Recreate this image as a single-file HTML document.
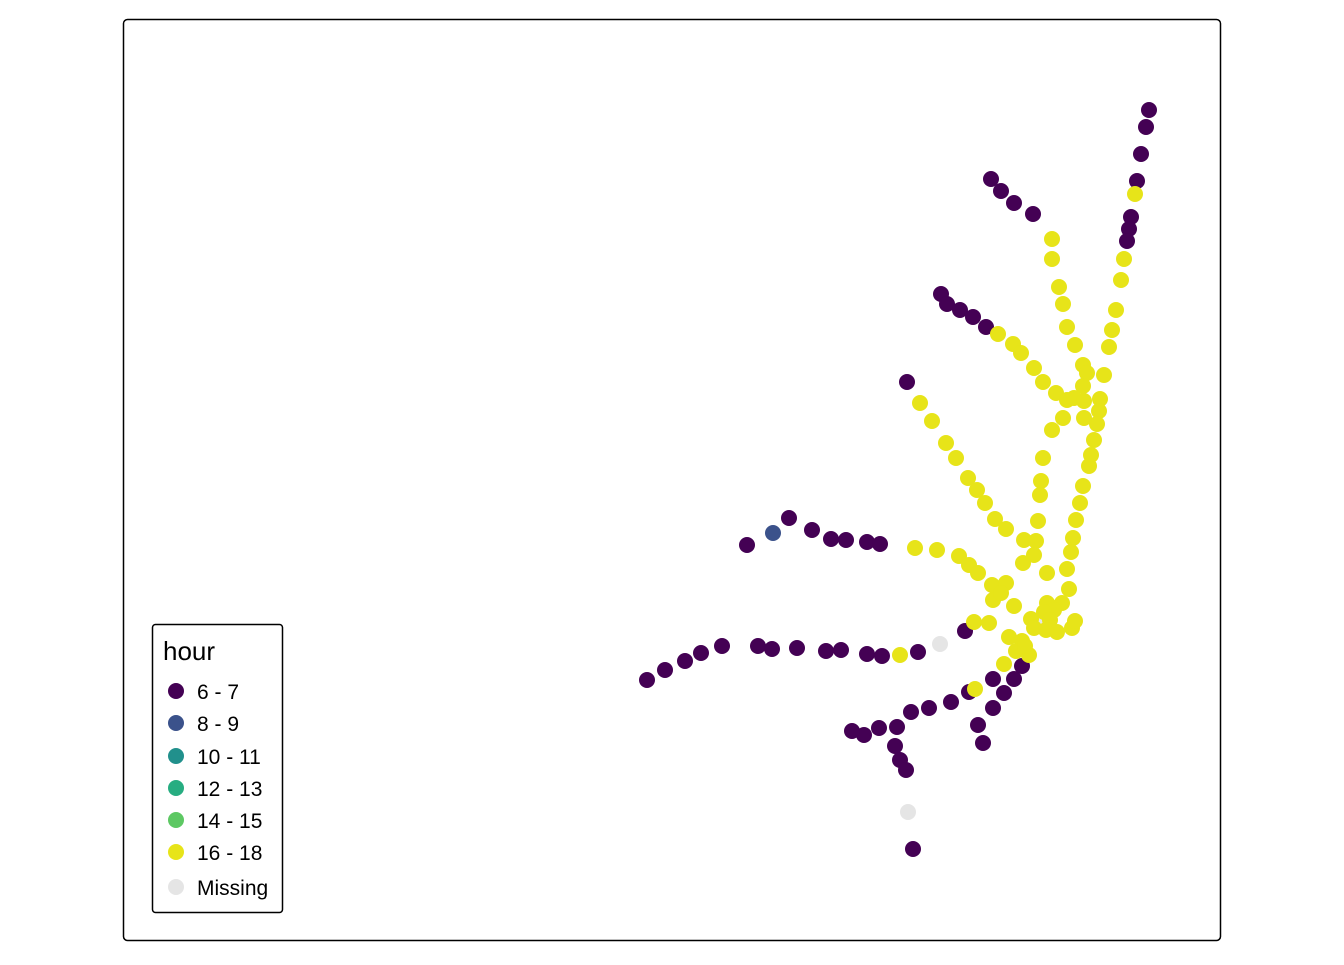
<!DOCTYPE html><html><head><meta charset="utf-8"><style>body{margin:0;background:#fff}</style></head><body>
<svg width="1344" height="960" xmlns="http://www.w3.org/2000/svg" font-family="Liberation Sans, sans-serif">
<rect x="123.5" y="19.5" width="1097" height="921" rx="4" fill="#fff" stroke="#000" stroke-width="1.5"/>
<g fill="#440154">
<circle cx="1149" cy="110" r="8"/><circle cx="1146" cy="127" r="8"/><circle cx="1141" cy="154" r="8"/><circle cx="1137" cy="181" r="8"/><circle cx="1131" cy="217" r="8"/><circle cx="1129" cy="229" r="8"/><circle cx="1127" cy="241" r="8"/>
<circle cx="991" cy="179" r="8"/><circle cx="1001" cy="191" r="8"/><circle cx="1014" cy="203" r="8"/><circle cx="1033" cy="214" r="8"/>
<circle cx="941" cy="294" r="8"/><circle cx="947" cy="304" r="8"/><circle cx="960" cy="310" r="8"/><circle cx="973" cy="317" r="8"/><circle cx="986" cy="327" r="8"/>
<circle cx="907" cy="382" r="8"/>
<circle cx="747" cy="545" r="8"/><circle cx="789" cy="518" r="8"/><circle cx="812" cy="530" r="8"/><circle cx="831" cy="539" r="8"/><circle cx="846" cy="540" r="8"/><circle cx="867" cy="542" r="8"/><circle cx="880" cy="544" r="8"/>
<circle cx="647" cy="680" r="8"/><circle cx="665" cy="670" r="8"/><circle cx="685" cy="661" r="8"/><circle cx="701" cy="653" r="8"/><circle cx="722" cy="646" r="8"/><circle cx="758" cy="646" r="8"/><circle cx="772" cy="649" r="8"/><circle cx="797" cy="648" r="8"/><circle cx="826" cy="651" r="8"/><circle cx="841" cy="650" r="8"/><circle cx="867" cy="654" r="8"/><circle cx="882" cy="656" r="8"/><circle cx="918" cy="652" r="8"/><circle cx="965" cy="631" r="8"/>
<circle cx="1022" cy="666" r="8"/><circle cx="1014" cy="679" r="8"/><circle cx="993" cy="679" r="8"/><circle cx="1004" cy="693" r="8"/><circle cx="969" cy="692" r="8"/><circle cx="993" cy="708" r="8"/><circle cx="951" cy="702" r="8"/><circle cx="929" cy="708" r="8"/><circle cx="911" cy="712" r="8"/><circle cx="897" cy="727" r="8"/><circle cx="879" cy="728" r="8"/><circle cx="864" cy="735" r="8"/><circle cx="852" cy="731" r="8"/><circle cx="978" cy="725" r="8"/><circle cx="983" cy="743" r="8"/><circle cx="895" cy="746" r="8"/><circle cx="900" cy="760" r="8"/><circle cx="906" cy="770" r="8"/><circle cx="913" cy="849" r="8"/>
</g>
<circle cx="773" cy="533" r="8" fill="#3b528b"/>
<g fill="#e5e5e5"><circle cx="1041" cy="624" r="8"/><circle cx="940" cy="644" r="8"/><circle cx="908" cy="812" r="8"/></g>
<g fill="#e7e419">
<circle cx="1135" cy="194" r="8"/><circle cx="1124" cy="259" r="8"/><circle cx="1121" cy="280" r="8"/><circle cx="1116" cy="310" r="8"/><circle cx="1112" cy="330" r="8"/><circle cx="1109" cy="347" r="8"/><circle cx="1104" cy="375" r="8"/><circle cx="1100" cy="399" r="8"/><circle cx="1099" cy="411" r="8"/><circle cx="1097" cy="424" r="8"/><circle cx="1094" cy="440" r="8"/><circle cx="1091" cy="455" r="8"/><circle cx="1089" cy="466" r="8"/><circle cx="1083" cy="486" r="8"/><circle cx="1080" cy="503" r="8"/><circle cx="1076" cy="520" r="8"/><circle cx="1073" cy="538" r="8"/><circle cx="1071" cy="552" r="8"/><circle cx="1067" cy="569" r="8"/><circle cx="1069" cy="589" r="8"/><circle cx="1062" cy="603" r="8"/>
<circle cx="1052" cy="239" r="8"/><circle cx="1052" cy="259" r="8"/><circle cx="1059" cy="287" r="8"/><circle cx="1063" cy="304" r="8"/><circle cx="1067" cy="327" r="8"/><circle cx="1075" cy="345" r="8"/><circle cx="1083" cy="365" r="8"/><circle cx="1087" cy="373" r="8"/><circle cx="1083" cy="386" r="8"/><circle cx="1056" cy="393" r="8"/><circle cx="1067" cy="400" r="8"/><circle cx="1074" cy="398" r="8"/><circle cx="1084" cy="401" r="8"/><circle cx="1063" cy="418" r="8"/><circle cx="1084" cy="418" r="8"/><circle cx="1052" cy="430" r="8"/><circle cx="1043" cy="458" r="8"/><circle cx="1041" cy="481" r="8"/><circle cx="1040" cy="495" r="8"/><circle cx="1038" cy="521" r="8"/><circle cx="1024" cy="540" r="8"/><circle cx="1036" cy="541" r="8"/><circle cx="1034" cy="555" r="8"/><circle cx="1023" cy="563" r="8"/><circle cx="1047" cy="573" r="8"/>
<circle cx="998" cy="334" r="8"/><circle cx="1013" cy="344" r="8"/><circle cx="1021" cy="353" r="8"/><circle cx="1034" cy="368" r="8"/><circle cx="1043" cy="382" r="8"/>
<circle cx="920" cy="403" r="8"/><circle cx="932" cy="421" r="8"/><circle cx="946" cy="443" r="8"/><circle cx="956" cy="458" r="8"/><circle cx="968" cy="478" r="8"/><circle cx="977" cy="490" r="8"/><circle cx="985" cy="503" r="8"/><circle cx="995" cy="519" r="8"/><circle cx="1006" cy="529" r="8"/>
<circle cx="915" cy="548" r="8"/><circle cx="937" cy="550" r="8"/><circle cx="959" cy="556" r="8"/><circle cx="969" cy="565" r="8"/><circle cx="978" cy="573" r="8"/><circle cx="992" cy="585" r="8"/><circle cx="1006" cy="583" r="8"/><circle cx="993" cy="600" r="8"/><circle cx="1001" cy="593" r="8"/><circle cx="1014" cy="606" r="8"/><circle cx="1047" cy="603" r="8"/><circle cx="1054" cy="610" r="8"/><circle cx="1044" cy="612" r="8"/><circle cx="1050" cy="620" r="8"/><circle cx="1031" cy="619" r="8"/><circle cx="1034" cy="628" r="8"/><circle cx="974" cy="622" r="8"/><circle cx="989" cy="623" r="8"/><circle cx="1009" cy="637" r="8"/><circle cx="1022" cy="641" r="8"/><circle cx="1016" cy="651" r="8"/><circle cx="1029" cy="655" r="8"/><circle cx="1025" cy="646" r="8"/><circle cx="1046" cy="630" r="8"/><circle cx="1057" cy="632" r="8"/><circle cx="1072" cy="628" r="8"/><circle cx="1075" cy="621" r="8"/><circle cx="1004" cy="664" r="8"/><circle cx="975" cy="689" r="8"/><circle cx="900" cy="655" r="8"/>
</g>
<rect x="152.5" y="624.5" width="130" height="288" rx="3" fill="#fff" stroke="#000" stroke-width="1.5"/>
<text x="163" y="660" font-size="26">hour</text>
<g font-size="21">
<circle cx="176" cy="691" r="8" fill="#440154"/><text x="197" y="699">6 - 7</text>
<circle cx="176" cy="723" r="8" fill="#3b528b"/><text x="197" y="731">8 - 9</text>
<circle cx="176" cy="756" r="8" fill="#21908c"/><text x="197" y="764">10 - 11</text>
<circle cx="176" cy="788" r="8" fill="#27ad81"/><text x="197" y="796">12 - 13</text>
<circle cx="176" cy="820" r="8" fill="#5dc863"/><text x="197" y="828">14 - 15</text>
<circle cx="176" cy="852" r="8" fill="#e7e419"/><text x="197" y="860">16 - 18</text>
<circle cx="176" cy="887" r="8" fill="#e5e5e5"/><text x="197" y="895">Missing</text>
</g>
</svg>
</body></html>
